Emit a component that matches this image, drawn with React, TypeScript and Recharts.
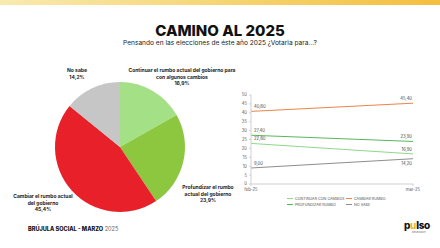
import React from "react";
import { PieChart, Pie, Cell, LineChart, Line, XAxis, YAxis, LabelList } from "recharts";

const pieNames = [
  ["Continuar el rumbo actual del gobierno para", "con algunos cambios"],
  ["Profundizar el rumbo", "actual del gobierno"],
  ["Cambiar el rumbo actual", "del gobierno"],
  ["No sabe"],
];
const pieValues = [16.9, 23.9, 45.4, 14.2];
const pieColors = ["#a3e086", "#8dc63f", "#e8202a", "#c6c6c6"];
const pieLabelOffsets = [
  [62, -75],
  [88, 42],
  [-77, 51],
  [-43, -75],
];

const months = ["feb-25", "mar-25"];
const seriesNames = ["CONTINUAR CON CAMBIOS", "CAMBIAR RUMBO", "PROFUNDIZAR RUMBO", "NO SABE"];
const seriesKeys = ["continuar", "cambiar", "profundizar", "nosabe"];
const continuar = [22.8, 16.9];
const cambiar = [40.8, 45.4];
const profundizar = [27.4, 23.9];
const nosabe = [9.0, 14.2];
const seriesColors = ["#8ed989", "#ec8548", "#58b85a", "#8e8e8e"];
const yTicks = [0, 5, 10, 15, 20, 25, 30, 35, 40, 45, 50];

const pieData = pieValues.map((v, i) => ({ name: pieNames[i].join(" "), value: v }));
const lineData = months.map((m, i) => ({
  month: m,
  continuar: continuar[i],
  cambiar: cambiar[i],
  profundizar: profundizar[i],
  nosabe: nosabe[i],
}));

const FONT = "Inter, 'Open Sans', sans-serif";
const fmt = (v: number) => v.toFixed(2).replace(".", ",");

const renderPieLabel = (props: any) => {
  const { cx, cy, index, value } = props;
  const [dx, dy] = pieLabelOffsets[index];
  const lines = [...pieNames[index], value.toFixed(1).replace(".", ",") + "%"];
  return (
    <text
      x={cx + dx}
      y={cy + dy}
      textAnchor="middle"
      fontFamily={FONT}
      fontWeight={700}
      fontSize={5}
      fill="#222"
    >
      {lines.map((l, i) => (
        <tspan key={i} x={cx + dx} dy={i === 0 ? 0 : 6.7}>
          {l}
        </tspan>
      ))}
    </text>
  );
};

const makeLabel = (key: string) => (props: any) => {
  const { x, y, value, index } = props;
  const below = key === "nosabe" && index === 1;
  return (
    <text
      x={index === 0 ? x + 3 : x - 1}
      y={below ? y + 6 : y - 3}
      textAnchor={index === 0 ? "start" : "end"}
      fontFamily={FONT}
      fontSize={4.2}
      fill="#444"
    >
      {fmt(value)}
    </text>
  );
};

export default function App() {
  return (
    <div
      style={{
        position: "fixed",
        left: 0,
        top: 0,
        width: 440,
        height: 248,
        background: "#fff",
        overflow: "hidden",
        fontFamily: FONT,
      }}
    >
      <div
        style={{
          position: "absolute",
          left: 0,
          top: 0,
          width: 440,
          height: 5,
          background: "linear-gradient(90deg, #f9eab0 0%, #f6d77a 45%, #f3bf3e 100%)",
        }}
      />
      <div
        style={{
          position: "absolute",
          left: 0,
          top: 22,
          width: 440,
          textAlign: "center",
          fontWeight: 800,
          fontSize: 15,
          lineHeight: "17px",
          color: "#111",
        }}
      >
        CAMINO AL 2025
      </div>
      <div
        style={{
          position: "absolute",
          left: 0,
          top: 39,
          width: 440,
          textAlign: "center",
          fontSize: 6.6,
          lineHeight: "8px",
          color: "#222",
        }}
      >
        Pensando en las elecciones de éste año 2025 ¿Votaria para...?
      </div>

      <div style={{ position: "absolute", left: 0, top: 0 }}>
        <PieChart width={440} height={248}>
          <Pie
            data={pieData}
            dataKey="value"
            cx={115}
            cy={142}
            outerRadius={65}
            startAngle={90}
            endAngle={-270}
            stroke="none"
            label={renderPieLabel}
            labelLine={false}
            isAnimationActive={false}
          >
            {pieData.map((_, i) => (
              <Cell key={i} fill={pieColors[i]} />
            ))}
          </Pie>
        </PieChart>
      </div>

      <div style={{ position: "absolute", left: 0, top: 0 }}>
        <LineChart
          width={440}
          height={248}
          data={lineData}
          margin={{ top: 95, right: 27, left: 231, bottom: 56 }}
        >
          <XAxis
            dataKey="month"
            height={8}
            padding={{ left: 0, right: 0 }}
            stroke="#d0d0d0"
            tickSize={2}
            tick={{ fontSize: 4.2, fill: "#555", fontFamily: FONT }}
          />
          <YAxis
            width={20}
            domain={[0, 50]}
            ticks={yTicks}
            interval={0}
            stroke="#d0d0d0"
            tickSize={2}
            tick={{ fontSize: 4.2, fill: "#555", fontFamily: FONT }}
          />
          {seriesKeys.map((k, i) => (
            <Line
              key={k}
              dataKey={k}
              stroke={seriesColors[i]}
              strokeWidth={1}
              dot={false}
              isAnimationActive={false}
            >
              <LabelList dataKey={k} content={makeLabel(k)} />
            </Line>
          ))}
        </LineChart>
      </div>

      <div
        style={{
          position: "absolute",
          left: 287,
          top: 196,
          width: 130,
          display: "grid",
          gridTemplateColumns: "59px 60px",
          rowGap: 1,
          fontSize: 3.7,
          color: "#555",
          lineHeight: "5px",
          whiteSpace: "nowrap",
        }}
      >
        {seriesNames.map((n, i) => (
          <div key={n} style={{ display: "flex", alignItems: "center" }}>
            <span
              style={{
                display: "inline-block",
                width: 6,
                height: 1,
                background: seriesColors[i],
                marginRight: 2,
                flexShrink: 0,
              }}
            />
            {n}
          </div>
        ))}
      </div>

      <div
        style={{
          position: "absolute",
          left: 28,
          top: 226,
          fontSize: 5.6,
          lineHeight: "7px",
          color: "#111",
        }}
      >
        <span style={{ fontWeight: 800 }}>BRÚJULA SOCIAL - MARZO</span>
        <span style={{ color: "#666" }}> 2025</span>
      </div>

      <div
        style={{
          position: "absolute",
          left: 404,
          top: 220,
          fontSize: 10,
          fontWeight: 800,
          lineHeight: "11px",
          color: "#111",
          letterSpacing: -0.3,
        }}
      >
        p<span style={{ color: "#f1b82e" }}>u</span>lso
      </div>
      <div
        style={{
          position: "absolute",
          left: 412,
          top: 231,
          fontSize: 2.6,
          lineHeight: "3px",
          color: "#666",
        }}
      >
        RESEARCH
      </div>
    </div>
  );
}
